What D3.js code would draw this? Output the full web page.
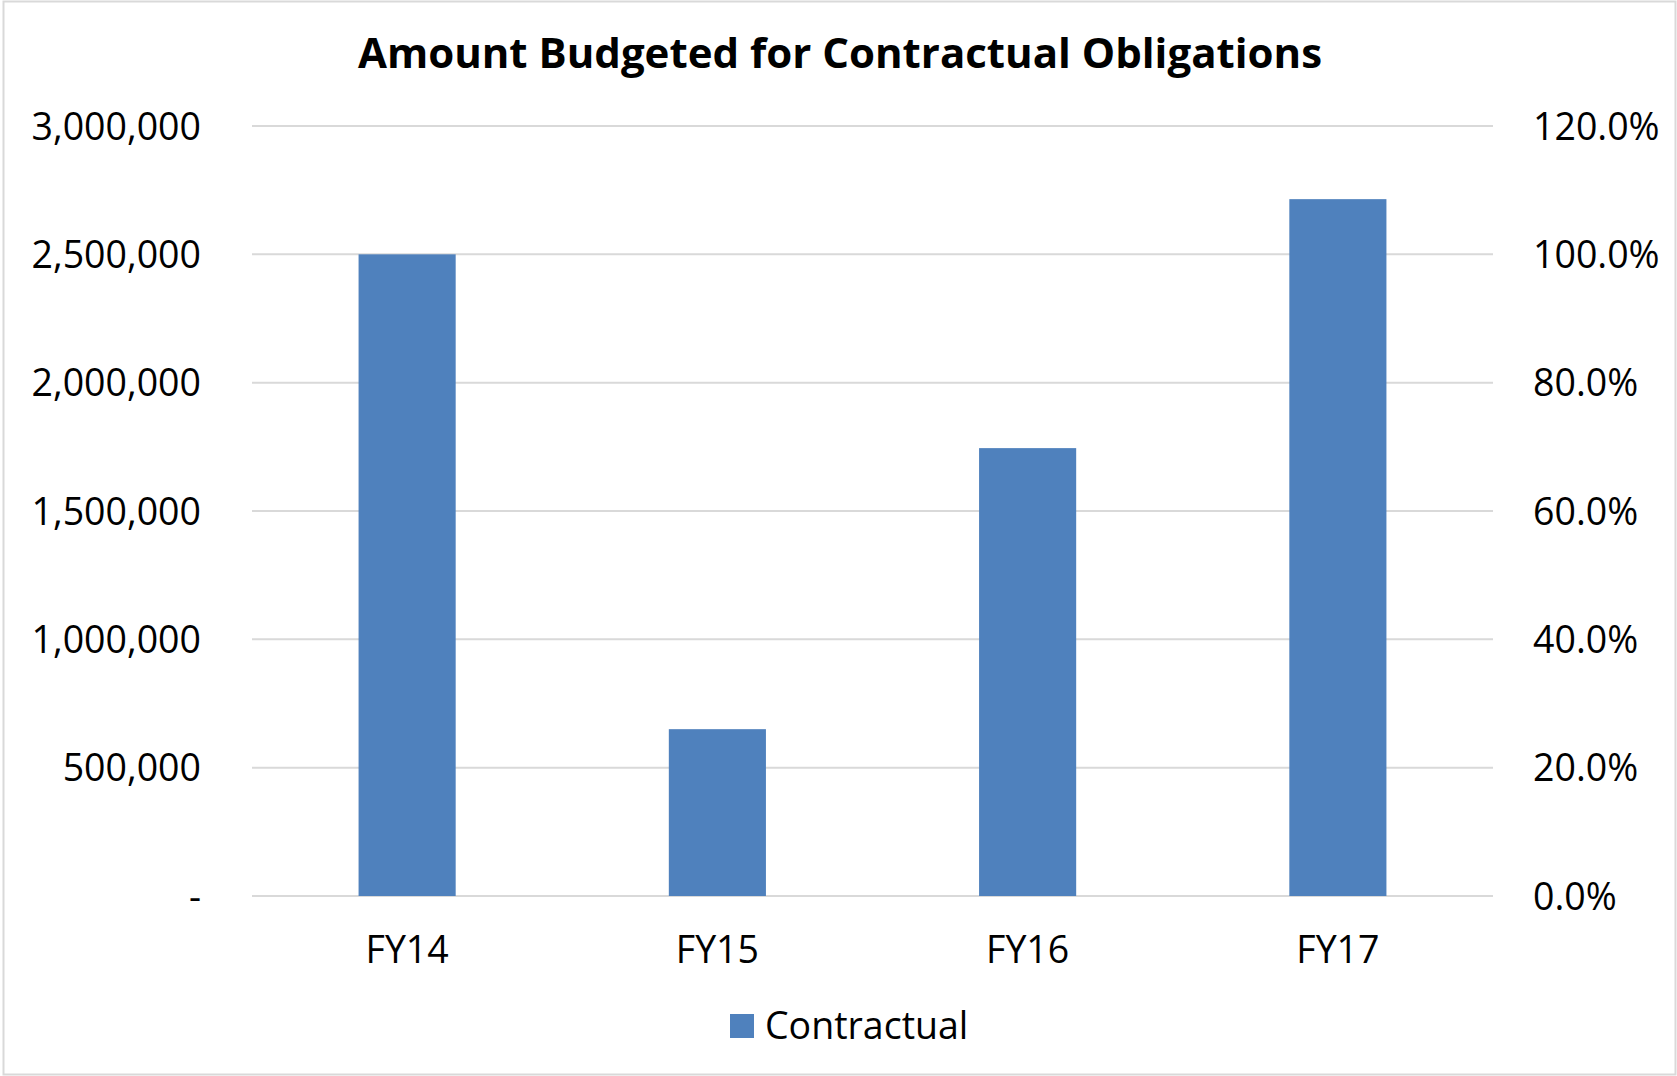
<!DOCTYPE html>
<html>
<head>
<meta charset="utf-8">
<script src="https://cdn.jsdelivr.net/npm/d3@7"></script>
<style>
  html, body { margin: 0; padding: 0; background: #fff; }
  svg { display: block; }
  text { font-family: "Open Sans", "Noto Sans", sans-serif; fill: #000; }
</style>
</head>
<body>
<script>
const categories = ["FY14", "FY15", "FY16", "FY17"];
const contractual = [2500000, 650000, 1745000, 2715000];
const leftTicks = [0, 500000, 1000000, 1500000, 2000000, 2500000, 3000000];
const rightTicks = [0, 0.2, 0.4, 0.6, 0.8, 1.0, 1.2];
const seriesName = "Contractual";
const title = "Amount Budgeted for Contractual Obligations";

const W = 1677, H = 1076;
const m = { left: 252, right: 1493, top: 126, bottom: 896 };
const FS = 37.5;

const svg = d3.select("body").append("svg").attr("width", W).attr("height", H);

svg.append("rect").attr("x", 3.5).attr("y", 1.5).attr("width", W - 5).attr("height", H - 3)
  .attr("fill", "#fff").attr("stroke", "#d9d9d9").attr("stroke-width", 2);

const x = d3.scaleBand().domain(categories).range([m.left, m.right]).paddingInner(0.687).paddingOuter(0.3435);
const y = d3.scaleLinear().domain([0, 3000000]).range([m.bottom, m.top]);
const y2 = d3.scaleLinear().domain([0, 1.2]).range([m.bottom, m.top]);

// gridlines
svg.append("g").selectAll("line").data(leftTicks).join("line")
  .attr("x1", m.left).attr("x2", m.right)
  .attr("y1", d => y(d)).attr("y2", d => y(d))
  .attr("stroke", "#d9d9d9").attr("stroke-width", 2);

// bars
svg.append("g").selectAll("rect").data(categories).join("rect")
  .attr("x", d => x(d)).attr("width", x.bandwidth())
  .attr("y", (d, i) => y(contractual[i]))
  .attr("height", (d, i) => y(0) - y(contractual[i]))
  .attr("fill", "#4f81bd");

// left axis
const fmtLeft = v => v === 0 ? "-" : d3.format(",")(v);
const gl = svg.append("g").attr("transform", `translate(${201},0)`)
  .call(d3.axisLeft(y).tickValues(leftTicks).tickFormat(fmtLeft).tickSize(0).tickPadding(0));
gl.select(".domain").remove();
gl.selectAll("text").attr("font-size", FS).attr("font-family", "Open Sans").attr("dy", "0.35em").attr("fill", "#000");

// right axis
const gr = svg.append("g").attr("transform", `translate(${1533},0)`)
  .call(d3.axisRight(y2).tickValues(rightTicks).tickFormat(d3.format(".1%")).tickSize(0).tickPadding(0));
gr.select(".domain").remove();
gr.selectAll("text").attr("font-size", FS).attr("font-family", "Open Sans").attr("dy", "0.35em").attr("fill", "#000");

// x axis labels
const gx = svg.append("g").attr("transform", `translate(0,${m.bottom})`)
  .call(d3.axisBottom(x).tickSize(0).tickPadding(0));
gx.select(".domain").remove();
gx.selectAll("text").attr("font-size", FS).attr("font-family", "Open Sans").attr("dy", null).attr("y", 67).attr("fill", "#000");

// title
svg.append("text").attr("x", 840).attr("y", 68).attr("text-anchor", "middle")
  .attr("font-size", 42).attr("font-weight", "bold").text(title);

// legend
const lg = svg.append("g");
lg.append("rect").attr("x", 730).attr("y", 1014).attr("width", 24).attr("height", 24).attr("fill", "#4f81bd");
lg.append("text").attr("x", 765).attr("y", 1039).attr("font-size", FS).text(seriesName);
</script>
</body>
</html>
